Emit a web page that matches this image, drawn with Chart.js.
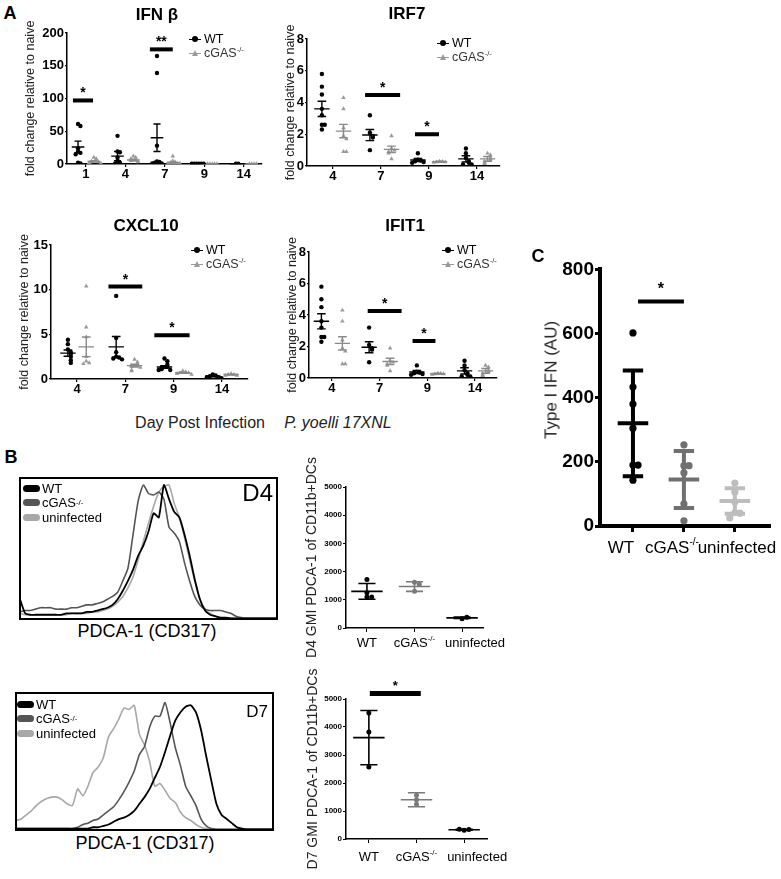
<!DOCTYPE html>
<html>
<head>
<meta charset="utf-8">
<title>cGAS and type I IFN</title>
<script src="https://cdn.jsdelivr.net/npm/chart.js@4.4.1/dist/chart.umd.min.js"></script>
<style>
  body { margin: 0; background: #fff; }
  #fig { position: relative; width: 781px; height: 879px; overflow: hidden; font-family: "Liberation Sans", Arial, sans-serif; color: #000; }
  #fig canvas { position: absolute; }
  .t { position: absolute; white-space: nowrap; line-height: 1; transform: translate(-50%, -50%); }
  .r { position: absolute; white-space: nowrap; line-height: 1; transform: translate(-100%, -50%); }
  .b { font-weight: bold; }
  sup { font-size: 0.6em; line-height: 0; vertical-align: super; }
  .aleg { position: absolute; font-size: 12.5px; white-space: nowrap; }
  .aleg div { height: 14px; display: flex; align-items: center; }
  .mk { display: inline-block; position: relative; width: 12px; height: 8px; margin-right: 3px; }
  .mk::before { content: ""; position: absolute; left: 0; width: 12px; top: 3.5px; height: 1px; background: currentColor; }
  .mk.dot::after { content: ""; position: absolute; left: 3px; top: 1px; width: 6px; height: 6px; border-radius: 50%; background: currentColor; }
  .mk.tri::after { content: ""; position: absolute; left: 2.5px; top: 0.5px; width: 0; height: 0; border-left: 3.5px solid transparent; border-right: 3.5px solid transparent; border-bottom: 6px solid currentColor; }
  .hleg { position: absolute; font-size: 13px; white-space: nowrap; }
  .hleg div { height: 14.5px; display: flex; align-items: center; }
  .pill { display: inline-block; width: 17px; height: 7px; border-radius: 4px; margin-right: 2px; }
</style>
</head>
<body>
<div id="fig">
  <canvas id="ifnb"></canvas>
  <canvas id="irf7"></canvas>
  <canvas id="cxcl10"></canvas>
  <canvas id="ifit1"></canvas>
  <canvas id="histD4"></canvas>
  <canvas id="histD7"></canvas>
  <canvas id="gmiD4"></canvas>
  <canvas id="gmiD7"></canvas>
  <canvas id="typeI"></canvas>

  <div class="t b" style="left:10px;top:13px;font-size:18px">A</div>
  <div class="t b" style="left:157px;top:14px;font-size:17px">IFN β</div>
  <div class="t b" style="left:407px;top:13px;font-size:17px">IRF7</div>
  <div class="t b" style="left:146px;top:225px;font-size:17px">CXCL10</div>
  <div class="t b" style="left:405px;top:225px;font-size:17px">IFIT1</div>

  <div class="aleg" style="left:189px;top:32px">
    <div><i class="mk dot"></i>WT</div>
    <div style="color:#9a9a9a"><i class="mk tri"></i><span style="color:#333">cGAS<sup>-/-</sup></span></div>
  </div>
  <div class="aleg" style="left:437px;top:36px">
    <div><i class="mk dot"></i>WT</div>
    <div style="color:#9a9a9a"><i class="mk tri"></i><span style="color:#333">cGAS<sup>-/-</sup></span></div>
  </div>
  <div class="aleg" style="left:191px;top:243px">
    <div><i class="mk dot"></i>WT</div>
    <div style="color:#9a9a9a"><i class="mk tri"></i><span style="color:#333">cGAS<sup>-/-</sup></span></div>
  </div>
  <div class="aleg" style="left:442px;top:243px">
    <div><i class="mk dot"></i>WT</div>
    <div style="color:#9a9a9a"><i class="mk tri"></i><span style="color:#333">cGAS<sup>-/-</sup></span></div>
  </div>

  <div class="t" style="left:200px;top:423px;font-size:16px;color:#222">Day Post Infection</div>
  <div class="t" style="left:338px;top:423px;font-size:16px;font-style:italic;color:#222">P. yoelli 17XNL</div>

  <div class="t b" style="left:11px;top:457px;font-size:18px">B</div>
  <div class="hleg" style="left:23px;top:481px">
    <div><i class="pill" style="background:#000"></i>WT</div>
    <div><i class="pill" style="background:#555"></i>cGAS<sup>-/-</sup></div>
    <div><i class="pill" style="background:#a8a8a8"></i>uninfected</div>
  </div>
  <div class="r" style="left:273px;top:493px;font-size:24px">D4</div>
  <div class="t" style="left:147px;top:631px;font-size:18px">PDCA-1 (CD317)</div>

  <div class="hleg" style="left:17px;top:697px">
    <div><i class="pill" style="background:#000"></i>WT</div>
    <div><i class="pill" style="background:#555"></i>cGAS<sup>-/-</sup></div>
    <div><i class="pill" style="background:#a8a8a8"></i>uninfected</div>
  </div>
  <div class="r" style="left:268px;top:711px;font-size:17px">D7</div>
  <div class="t" style="left:145px;top:843px;font-size:18px">PDCA-1 (CD317)</div>

  <div class="t b" style="left:538px;top:256px;font-size:18px">C</div>
  <div class="t" style="left:551px;top:380px;font-size:17px;color:#222;transform:translate(-50%,-50%) rotate(-90deg)">Type I IFN (AU)</div>
</div>

<script>
const family = '"Liberation Sans", Arial, sans-serif';

// ---- A: IFN beta ----
const ifnbDays = ['1', '4', '7', '9', '14'];
const ifnbTicks = [0, 50, 100, 150, 200];
const ifnbWT = [[61, 58, 24, 19, 17, 15, 2, 1], [43, 19, 18, 10, 5, 2, 1], [165, 139, 28, 4, 3, 2, 1, 1], [0.5, 0.5, 0.5, 0.5, 0.5, 0.5], [0.4, 0.4]];
const ifnbWTMean = [26, 12, 40, 0.5, 0.4];
const ifnbWTSem = [9, 7, 21, 0, 0];
const ifnbKO = [[10, 8, 5, 4, 3, 3, 2, 1], [12, 10, 8, 6, 5, 4, 3], [12, 5, 3, 2, 1, 1, 1], [0.3, 0.3, 0.3, 0.3, 0.3], [0.2, 0.2, 0.2, 0.2]];
const ifnbKOMean = [4, 6, 2, 0.3, 0.2];
const ifnbKOSem = [1, 1.5, 1, 0, 0];
const ifnbSigDay = [0, 2];
const ifnbSigAt = [97, 175];
const ifnbSigText = ['*', '**'];

// ---- A: IRF7 ----
const irf7Days = ['4', '7', '9', '14'];
const irf7Ticks = [0, 2, 4, 6, 8];
const irf7WT = [[5.8, 5.0, 4.5, 3.6, 3.2, 2.6, 2.6, 2.3], [3.2, 2.1, 1.9, 1.8, 1.0], [0.8, 0.4, 0.35, 0.3, 0.25, 0.2], [1.1, 0.8, 0.5, 0.3, 0.2, 0.1, 0.1]];
const irf7WTMean = [3.6, 1.95, 0.38, 0.45];
const irf7WTSem = [0.48, 0.35, 0.1, 0.2];
const irf7KO = [[4.3, 3.6, 2.4, 1.9, 1.7, 0.9, 0.9], [1.9, 1.1, 1.0, 0.9, 0.8, 0.45], [0.3, 0.28, 0.25, 0.25, 0.22], [0.8, 0.7, 0.5, 0.4, 0.3, 0.2, 0.15]];
const irf7KOMean = [2.2, 1.05, 0.27, 0.45];
const irf7KOSem = [0.42, 0.2, 0.03, 0.15];
const irf7SigDay = [1, 2];
const irf7SigAt = [4.47, 2.0];
const irf7SigText = ['*', '*'];

// ---- A: CXCL10 ----
const cxclDays = ['4', '7', '9', '14'];
const cxclTicks = [0, 5, 10, 15];
const cxclWT = [[4.4, 3.9, 3.3, 3.0, 2.8, 2.5, 2.1, 1.8], [9.3, 4.6, 3.0, 2.5, 2.4, 2.3, 2.2], [2.3, 2.0, 1.6, 1.4, 1.2, 1.1, 1.0, 1.0], [0.5, 0.4, 0.3, 0.2, 0.2, 0.1]];
const cxclWTMean = [2.9, 3.6, 1.35, 0.3];
const cxclWTSem = [0.35, 1.15, 0.15, 0.05];
const cxclKO = [[10.4, 5.8, 4.7, 2.5, 2.0, 1.8, 1.7], [2.2, 1.9, 1.7, 1.5, 1.4, 1.3, 1.0, 0.9], [0.9, 0.8, 0.7, 0.7, 0.6, 0.5], [0.6, 0.5, 0.5, 0.4, 0.4]];
const cxclKOMean = [3.6, 1.5, 0.7, 0.5];
const cxclKOSem = [1.1, 0.15, 0.07, 0.05];
const cxclSigDay = [1, 2];
const cxclSigAt = [10.35, 4.9];
const cxclSigText = ['*', '*'];

// ---- A: IFIT1 ----
const ifitDays = ['4', '7', '9', '14'];
const ifitTicks = [0, 2, 4, 6, 8];
const ifitWT = [[5.8, 5.0, 4.5, 3.6, 3.2, 2.6, 2.6, 2.3], [3.2, 2.1, 1.9, 1.8, 1.0], [0.8, 0.4, 0.35, 0.3, 0.25, 0.2], [1.1, 0.8, 0.5, 0.3, 0.2, 0.1, 0.1]];
const ifitWTMean = [3.6, 1.95, 0.38, 0.45];
const ifitWTSem = [0.48, 0.35, 0.1, 0.2];
const ifitKO = [[4.3, 3.6, 2.4, 1.9, 1.7, 0.9, 0.9], [1.9, 1.1, 1.0, 0.9, 0.8, 0.45], [0.3, 0.28, 0.25, 0.25, 0.22], [0.8, 0.7, 0.5, 0.4, 0.3, 0.2, 0.15]];
const ifitKOMean = [2.2, 1.05, 0.27, 0.45];
const ifitKOSem = [0.42, 0.2, 0.03, 0.15];
const ifitSigDay = [1, 2];
const ifitSigAt = [4.25, 2.35];
const ifitSigText = ['*', '*'];

// ---- B: histograms (% of max, channels 0..100) ----
const histBins = Array.from({length: 51}, (_, i) => i * 2);
const d4WT = [14, 4, 3, 3, 3, 3, 3, 3, 3, 4, 4, 4, 4, 5, 5, 6, 7, 8, 10, 14, 20, 27, 35, 45, 52, 62, 75, 72, 95, 85, 76, 72, 60, 45, 28, 14, 6, 3, 2, 1, 1, 0.5, 0.5, 0.5, 0.5, 0.5, 0.5, 0.5, 0.5, 0.5, 0.5];
const d4KO = [5, 6, 6, 7, 8, 8, 8, 7, 7, 7, 8, 8, 9, 10, 10, 11, 12, 14, 16, 19, 27, 36, 60, 84, 95, 89, 88, 90, 85, 65, 61, 55, 40, 27, 16, 10, 7, 6, 6, 6, 5, 4, 2, 1, 0.5, 0.5, 0.5, 0.5, 0.5, 0.5, 0.5];
const d4Uninf = [4, 3, 3, 3, 3, 3, 3, 3, 3, 3, 4, 4, 4, 4, 5, 5, 6, 7, 9, 12, 16, 22, 30, 42, 55, 68, 80, 90, 94, 95, 82, 72, 58, 42, 27, 14, 7, 4, 2, 1, 0.5, 0.5, 0.5, 0.5, 0.5, 0.5, 0.5, 0.5, 0.5, 0.5, 0.5];
const d7WT = [1, 1, 1, 1, 1, 1, 1, 1, 1, 1, 1, 1, 1, 1, 1, 2, 2, 3, 4, 6, 8, 9, 11, 14, 19, 24, 30, 38, 46, 57, 69, 80, 86, 90, 91, 86, 73, 54, 36, 19, 11, 8, 5, 2, 1, 0.5, 0.5, 0.5, 0.5, 0.5, 0.5];
const d7KO = [1, 1, 1, 1, 1, 1, 1, 1, 1, 1, 1, 1, 2, 4, 5, 7, 8, 11, 14, 17, 22, 28, 35, 43, 55, 61, 75, 83, 83, 93, 78, 60, 47, 32, 25, 18, 8, 3, 1, 0.5, 0.5, 0.5, 0.5, 0.5, 0.5, 0.5, 0.5, 0.5, 0.5, 0.5, 0.5];
const d7Uninf = [7, 8, 11, 14, 18, 21, 23, 24, 24, 22, 19, 18, 30, 25, 32, 42, 46, 53, 68, 74, 81, 89, 88, 91, 70, 62, 50, 32, 34, 29, 23, 20, 13, 9, 7, 4, 2, 1, 0.5, 0.5, 0.5, 0.5, 0.5, 0.5, 0.5, 0.5, 0.5, 0.5, 0.5, 0.5, 0.5];

// ---- B: GMI PDCA-1 of CD11b+ DCs ----
const bGroups = ['WT', 'cGAS^-/-', 'uninfected'];
const gmiTicks = [0, 1000, 2000, 3000, 4000, 5000];
const d4Gmi = [[1720, 1250, 1100, 1100], [1620, 1550, 1300], [330, 380]];
const d4GmiMean = [1300, 1470, 360];
const d4GmiSd = [280, 170, 25];
const d7Gmi = [[4500, 3820, 2570], [1560, 1400, 1240], [310, 340, 350]];
const d7GmiMean = [3620, 1400, 330];
const d7GmiSd = [970, 250, 20];

// ---- C: type I IFN ----
const cGroups = ['WT', 'cGAS^-/-', 'uninfected'];
const cTicks = [0, 200, 400, 600, 800];
const cVals = [[602, 433, 380, 305, 190, 190, 143], [253, 188, 188, 166, 69, 16], [134, 106, 75, 42, 40, 25]];
const cMean = [320, 145, 78];
const cSd = [165, 89, 40];

// spread points with near-equal values sideways, like a dot plot
function spread(vals, tol, step) {
  const seen = [];
  return vals.map(v => {
    const n = seen.filter(p => Math.abs(p - v) < tol).length;
    seen.push(v);
    return (n % 2 ? 1 : -1) * Math.ceil(n / 2) * step;
  });
}

function pick(c, i) { return Array.isArray(c) ? c[i] : c; }

function errorBars(o) {
  return {
    id: 'errorBars',
    afterDatasetsDraw(chart) {
      const {ctx, scales: {x, y}} = chart;
      ctx.save();
      ctx.lineWidth = o.errW;
      o.series.forEach(s => {
        s.mean.forEach((m, i) => {
          const c = i + s.offset;
          const px = x.getPixelForValue(c);
          const hw = x.getPixelForValue(c + o.halfW) - px;
          const cw = x.getPixelForValue(c + o.capW) - px;
          const pm = y.getPixelForValue(m);
          ctx.strokeStyle = pick(s.line, i);
          ctx.beginPath();
          ctx.moveTo(px - hw, pm);
          ctx.lineTo(px + hw, pm);
          if (s.err[i] > 0) {
            const pt = y.getPixelForValue(m + s.err[i]);
            const pb = y.getPixelForValue(Math.max(0, m - s.err[i]));
            ctx.moveTo(px, pt); ctx.lineTo(px, pb);
            ctx.moveTo(px - cw, pt); ctx.lineTo(px + cw, pt);
            ctx.moveTo(px - cw, pb); ctx.lineTo(px + cw, pb);
          }
          ctx.stroke();
        });
      });
      ctx.restore();
    }
  };
}

function sigBars(o) {
  return {
    id: 'sigBars',
    afterDatasetsDraw(chart) {
      if (!o.sig) return;
      const {ctx, scales: {x, y}} = chart;
      ctx.save();
      ctx.strokeStyle = '#000';
      ctx.fillStyle = '#000';
      ctx.lineWidth = o.sigW;
      ctx.font = o.sigFont;
      ctx.textAlign = 'center';
      ctx.textBaseline = 'alphabetic';
      o.sig.days.forEach((d, k) => {
        const xa = x.getPixelForValue(d + o.sig.span[k][0]);
        const xb = x.getPixelForValue(d + o.sig.span[k][1]);
        const py = y.getPixelForValue(o.sig.at[k]);
        ctx.beginPath();
        ctx.moveTo(xa, py);
        ctx.lineTo(xb, py);
        ctx.stroke();
        ctx.fillText(o.sig.text[k], (xa + xb) / 2, py - o.sigGap);
      });
      ctx.restore();
    }
  };
}

// category labels with a superscript part after '^'
function catLabels(o) {
  return {
    id: 'catLabels',
    afterDraw(chart) {
      const {ctx, scales: {x}, chartArea} = chart;
      ctx.save();
      ctx.fillStyle = '#000';
      ctx.textBaseline = 'middle';
      ctx.textAlign = 'left';
      o.cats.forEach((label, i) => {
        const [main, sup] = label.split('^');
        ctx.font = o.catFont;
        const w1 = ctx.measureText(main).width;
        ctx.font = o.supFont;
        const w2 = sup ? ctx.measureText(sup).width : 0;
        const left = x.getPixelForValue(i) + (o.catShift[i] || 0) - (w1 + w2) / 2;
        const py = chartArea.bottom + o.catGap;
        ctx.font = o.catFont;
        ctx.fillText(main, left, py);
        if (sup) {
          ctx.font = o.supFont;
          ctx.fillText(sup, left + w1, py - o.supRise);
        }
      });
      ctx.restore();
    }
  };
}

function dotPlot(id, o) {
  const cv = document.getElementById(id);
  const lh = o.titleSize * 1.2;
  const left = Math.round(o.labelX != null ? o.labelX - lh / 2 : o.x0 - o.yAxisW);
  const top = Math.round(o.y0 - o.padTop);
  cv.width = Math.round(o.x1 + o.padRight - left);
  cv.height = Math.round(o.y1 + o.xAxisH - top);
  cv.style.left = left + 'px';
  cv.style.top = top + 'px';

  const datasets = o.series.map(s => {
    const pts = [], cols = [];
    s.vals.forEach((grp, i) => {
      const dx = spread(grp, o.tol, o.step);
      grp.forEach((v, k) => {
        pts.push({x: i + s.offset + dx[k], y: v});
        cols.push(pick(s.color, i));
      });
    });
    return {
      data: pts,
      pointBackgroundColor: cols,
      pointBorderColor: cols,
      pointBorderWidth: 0,
      pointStyle: s.pointStyle || 'circle',
      pointRadius: s.r || o.r
    };
  });

  const tickFont = {family, size: o.tickSize, weight: 'bold'};
  const gridOpts = len => ({drawOnChartArea: false, color: '#000', lineWidth: o.tickW, tickLength: len});

  return new Chart(cv, {
    type: 'scatter',
    data: {datasets},
    options: {
      responsive: false,
      animation: false,
      events: [],
      layout: {padding: {top: o.padTop, right: o.padRight, left: 0, bottom: 0}},
      plugins: {legend: {display: false}, tooltip: {enabled: false}},
      scales: {
        x: {
          type: 'linear',
          min: o.xMin,
          max: o.xMax,
          afterBuildTicks: s => { s.ticks = o.cats.map((c, i) => ({value: i})); },
          afterFit: s => { s.height = o.xAxisH; },
          grid: gridOpts(o.xTickLen),
          border: {color: '#000', width: o.axisW},
          ticks: {
            display: !o.catFont,
            autoSkip: false,
            maxRotation: 0,
            padding: 0,
            color: '#000',
            font: tickFont,
            callback: (v, i) => o.cats[i]
          }
        },
        y: {
          min: o.yTicks[0],
          max: o.yTicks[o.yTicks.length - 1],
          afterBuildTicks: s => { s.ticks = o.yTicks.map(v => ({value: v})); },
          afterFit: s => { s.width = o.x0 - left; },
          title: {display: !!o.yTitle, text: o.yTitle, color: '#222', padding: 0, font: {family, size: o.titleSize}},
          grid: gridOpts(o.yTickLen),
          border: {color: '#000', width: o.axisW},
          ticks: {padding: o.yTickPad, color: '#000', font: tickFont, callback: v => String(v)}
        }
      }
    },
    plugins: [errorBars(o), sigBars(o)].concat(o.catFont ? [catLabels(o)] : [])
  });
}

const frame = {
  id: 'frame',
  afterDraw(chart) {
    const {ctx, chartArea: a} = chart;
    ctx.save();
    ctx.strokeStyle = '#000';
    ctx.lineWidth = 2;
    ctx.strokeRect(a.left, a.top, a.width, a.height);
    ctx.restore();
  }
};

function histPlot(id, o) {
  const cv = document.getElementById(id);
  cv.width = o.x1 - o.x0 + 4;
  cv.height = o.y1 - o.y0 + 4;
  cv.style.left = (o.x0 - 2) + 'px';
  cv.style.top = (o.y0 - 2) + 'px';
  const colors = ['#000', '#555', '#a8a8a8'];
  const widths = [1.8, 1.6, 1.6];
  return new Chart(cv, {
    type: 'line',
    data: {
      labels: histBins,
      datasets: o.curves.map((c, i) => ({data: c, borderColor: colors[i], borderWidth: widths[i]}))
    },
    options: {
      responsive: false,
      animation: false,
      events: [],
      layout: {padding: 2},
      elements: {point: {radius: 0}, line: {tension: 0.2}},
      plugins: {legend: {display: false}, tooltip: {enabled: false}},
      scales: {x: {display: false}, y: {display: false, min: 0, max: 100}}
    },
    plugins: [frame]
  });
}

// shared look of the four panel A plots
const aStyle = {
  titleSize: 12.5, yTitle: 'fold change relative to naive',
  tickSize: 13, yTickLen: 2, xTickLen: 3, tickW: 1.2, axisW: 1.5, yTickPad: 1,
  padTop: 22, padRight: 4, xAxisH: 24, r: 2.2, step: 0.06,
  halfW: 0.16, capW: 0.09, errW: 1.4, sigW: 4, sigFont: 'bold 14px ' + family, sigGap: 3
};
const wtLook = {color: '#000', line: '#000'};
const koLook = {color: '#9a9a9a', line: '#8a8a8a', pointStyle: 'triangle', r: 2.6};

dotPlot('ifnb', Object.assign({}, aStyle, {
  x0: 67, x1: 262, y0: 33, y1: 164, labelX: 30, xMin: -0.48, xMax: 4.46, tol: 5,
  cats: ifnbDays, yTicks: ifnbTicks,
  series: [
    Object.assign({vals: ifnbWT, mean: ifnbWTMean, err: ifnbWTSem, offset: -0.2}, wtLook),
    Object.assign({vals: ifnbKO, mean: ifnbKOMean, err: ifnbKOSem, offset: 0.2}, koLook)
  ],
  sig: {days: ifnbSigDay, at: ifnbSigAt, text: ifnbSigText, span: [[-0.33, 0.18], [-0.38, 0.2]]}
}));

dotPlot('irf7', Object.assign({}, aStyle, {
  x0: 307, x1: 500, y0: 39, y1: 166, labelX: 290, xMin: -0.54, xMax: 3.48, tol: 0.25,
  cats: irf7Days, yTicks: irf7Ticks,
  series: [
    Object.assign({vals: irf7WT, mean: irf7WTMean, err: irf7WTSem, offset: -0.23}, wtLook),
    Object.assign({vals: irf7KO, mean: irf7KOMean, err: irf7KOSem, offset: 0.22}, koLook)
  ],
  sig: {days: irf7SigDay, at: irf7SigAt, text: irf7SigText, span: [[-0.33, 0.4], [-0.29, 0.21]]}
}));

dotPlot('cxcl10', Object.assign({}, aStyle, {
  x0: 51, x1: 248, y0: 245, y1: 379, labelX: 24, xMin: -0.54, xMax: 3.54, tol: 0.45,
  cats: cxclDays, yTicks: cxclTicks,
  series: [
    Object.assign({vals: cxclWT, mean: cxclWTMean, err: cxclWTSem, offset: -0.19}, wtLook),
    Object.assign({vals: cxclKO, mean: cxclKOMean, err: cxclKOSem, offset: 0.19}, koLook)
  ],
  sig: {days: cxclSigDay, at: cxclSigAt, text: cxclSigText, span: [[-0.35, 0.35], [-0.4, 0.33]]}
}));

dotPlot('ifit1', Object.assign({}, aStyle, {
  x0: 309, x1: 497, y0: 252, y1: 378, labelX: 292, xMin: -0.48, xMax: 3.46, tol: 0.25,
  cats: ifitDays, yTicks: ifitTicks,
  series: [
    Object.assign({vals: ifitWT, mean: ifitWTMean, err: ifitWTSem, offset: -0.22}, wtLook),
    Object.assign({vals: ifitKO, mean: ifitKOMean, err: ifitKOSem, offset: 0.22}, koLook)
  ],
  sig: {days: ifitSigDay, at: ifitSigAt, text: ifitSigText, span: [[-0.25, 0.46], [-0.31, 0.17]]}
}));

histPlot('histD4', {x0: 20, x1: 277, y0: 478, y1: 619, curves: [d4WT, d4KO, d4Uninf]});
histPlot('histD7', {x0: 16, x1: 273, y0: 693, y1: 830, curves: [d7WT, d7KO, d7Uninf]});

const bColors = ['#000', '#7a7a7a', '#000'];
const bStyle = {
  titleSize: 14, tickSize: 8, yTickLen: 3, xTickLen: 4, tickW: 1, axisW: 1.5, yTickPad: 1,
  padRight: 30, xAxisH: 38, r: 2.5, tol: 100, step: 0.1,
  halfW: 0.33, capW: 0.18, errW: 1.6,
  cats: bGroups, yTicks: gmiTicks,
  catFont: '13px ' + family, supFont: '8px ' + family, supRise: 4, catShift: [0, 0, 13]
};

dotPlot('gmiD4', Object.assign({}, bStyle, {
  x0: 346, x1: 483, y0: 487, y1: 628, labelX: 312, padTop: 36, xMin: -0.44, xMax: 2.44, catGap: 15,
  yTitle: 'D4 GMI PDCA-1 of CD11b+DCs',
  series: [{vals: d4Gmi, mean: d4GmiMean, err: d4GmiSd, offset: 0, color: bColors, line: bColors}]
}));

dotPlot('gmiD7', Object.assign({}, bStyle, {
  x0: 346, x1: 487, y0: 699, y1: 839, labelX: 313, padTop: 36, xMin: -0.48, xMax: 2.48, catGap: 18,
  yTitle: 'D7 GMI PDCA-1 of CD11b+DCs',
  series: [{vals: d7Gmi, mean: d7GmiMean, err: d7GmiSd, offset: 0, color: bColors, line: bColors}],
  sig: {days: [0], at: [5200], text: ['*'], span: [[0.02, 1.09]]},
  sigW: 5, sigFont: 'bold 13px ' + family, sigGap: 3
}));

const cColors = ['#000', '#707070', '#bdbdbd'];
dotPlot('typeI', {
  x0: 600, x1: 769, y0: 269, y1: 526, yAxisW: 40, titleSize: 17,
  xMin: -0.647, xMax: 2.67, padTop: 12, padRight: 10, xAxisH: 34,
  tickSize: 19, yTickLen: 5, xTickLen: 6, tickW: 3, axisW: 4, yTickPad: 1,
  r: 3.6, tol: 20, step: 0.1, halfW: 0.3, capW: 0.2, errW: 4,
  cats: cGroups, yTicks: cTicks,
  series: [{vals: cVals, mean: cMean, err: cSd, offset: 0, color: cColors, line: cColors}],
  sig: {days: [0], at: [700], text: ['*'], span: [[0.1, 1.0]]},
  sigW: 4, sigFont: 'bold 16px ' + family, sigGap: 7,
  catFont: '17px ' + family, supFont: '10px ' + family, supRise: 6, catGap: 22, catShift: [-12, -12, 2]
});
</script>
</body>
</html>
